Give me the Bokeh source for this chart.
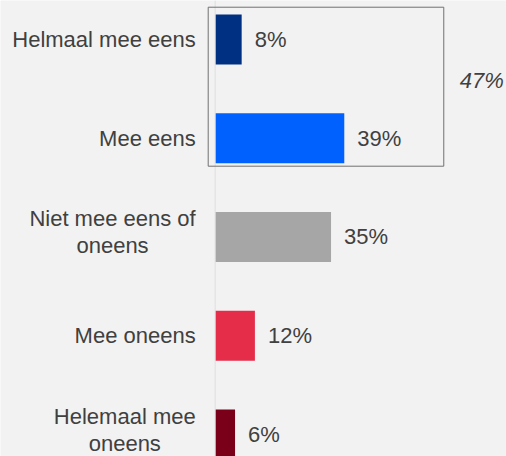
import textwrap
from bokeh.plotting import figure
from bokeh.models import Range1d, Span, BoxAnnotation, ColumnDataSource, Label
from bokeh.embed import file_html
from bokeh.resources import INLINE
from bokeh.core.properties import value

# ---- data ----
categories = ["Helmaal mee eens", "Mee eens", "Niet mee eens of oneens",
              "Mee oneens", "Helemaal mee oneens"]
values = [8, 39, 35, 12, 6]
colors = ["#003082", "#0061FF", "#A6A6A6", "#E52D4A", "#7A0019"]
agree_idx = [0, 1]
agree_total = sum(values[i] for i in agree_idx)

FONT = "Liberation Sans"
FS = 22
TXT = "#404040"
BG = "#F2F2F2"

# Arial / Liberation Sans advance widths (per 1000 em) for centring wrapped labels
ADV = {"H": 722, "M": 833, "N": 722, "a": 556, "e": 556, "f": 278, "i": 222,
       "l": 222, "m": 833, "n": 556, "o": 556, "s": 500, "t": 278, " ": 278}


def text_width(s):
    return sum(ADV.get(ch, 556) for ch in s) * FS / 1000.0


wrapped = [textwrap.fill(c, 16) for c in categories]
block_w = [max(text_width(line) for line in w.split("\n")) for w in wrapped]
LABEL_GAP = 19.5   # px between label block and the zero line
MULTI_SHIFT = -4.5  # px, nudges two-line blocks up

pos = list(range(len(categories)))
src = ColumnDataSource(dict(y=pos, v=values, c=colors,
                            lab=[f"{v}%" for v in values]))
cat_src = ColumnDataSource(dict(
    y=pos, x=[0] * len(pos), t=wrapped,
    xoff=[-(LABEL_GAP + w / 2.0) for w in block_w],
    yoff=[MULTI_SHIFT if "\n" in w else 0 for w in wrapped]))

p = figure(width=506, height=456, output_backend="svg", toolbar_location=None,
           x_range=Range1d(-64.86, 88.01), y_range=Range1d(4.223, -0.395),
           x_axis_location=None, y_axis_location=None,
           min_border_left=0, min_border_right=0,
           min_border_top=0, min_border_bottom=0)

p.background_fill_color = BG
p.border_fill_color = BG
p.outline_line_color = None
p.xgrid.visible = False
p.ygrid.visible = False

p.add_layout(Span(location=0, dimension="height", line_color="#DEDEDE", line_width=1))

p.hbar(y="y", left=0, right="v", height=0.506, fill_color="c", line_color=None, source=src)
p.text(x="v", y="y", text="lab", x_offset=13, text_align="left", text_baseline="middle",
       text_font=value(FONT), text_font_size=f"{FS}px", text_color=TXT, source=src)

# category labels (centred multi-line blocks, right edge near the zero line)
p.text(x="x", y="y", text="t", x_offset="xoff", y_offset="yoff",
       text_align="center", text_baseline="middle",
       text_font=value(FONT), text_font_size=f"{FS}px", text_color=TXT,
       text_line_height=1.08, source=cat_src)

# box around the "agree" group
p.add_layout(BoxAnnotation(left=-2.11, right=69.06, top=-0.327, bottom=1.283,
                           fill_alpha=0, line_color="#707070", line_alpha=1.0,
                           line_width=1))
p.add_layout(Label(x=73.9, y=0.42, text=f"{agree_total}%", text_align="left",
                   text_baseline="middle", text_font=FONT, text_font_size=f"{FS}px",
                   text_font_style="italic", text_color=TXT))

open("out.html", "w").write(file_html(p, INLINE))
